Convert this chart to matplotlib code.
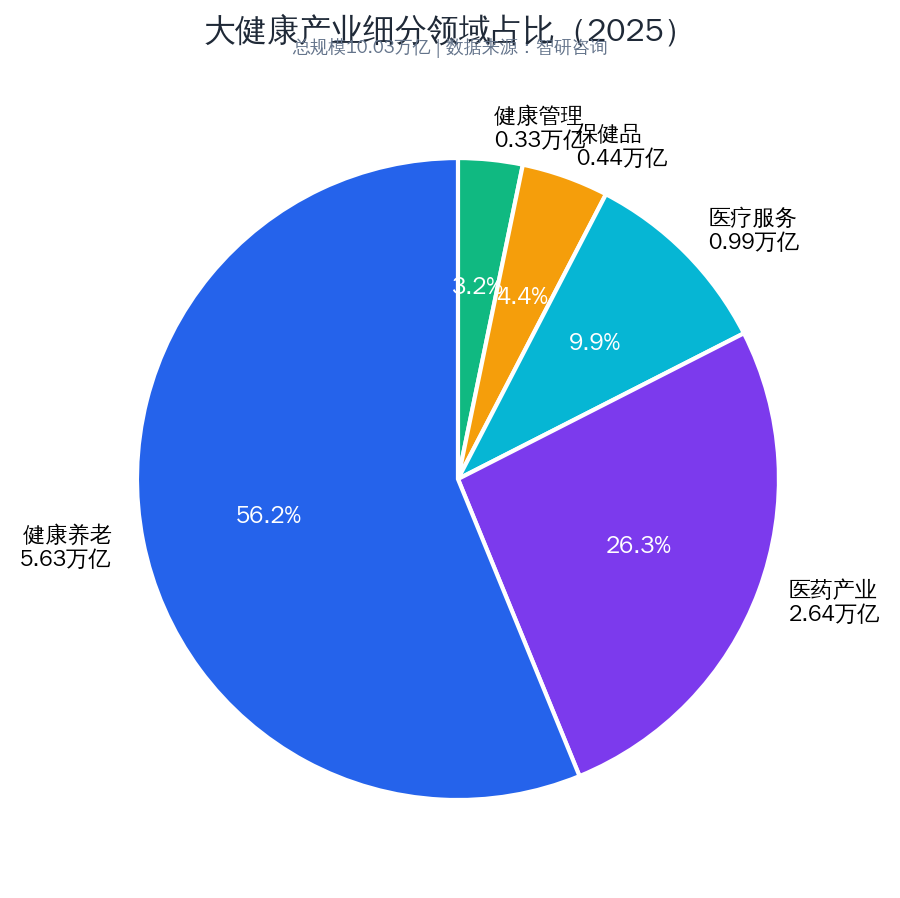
import matplotlib
matplotlib.use("Agg")
import matplotlib.pyplot as plt

plt.rcParams['font.family'] = ['WenQuanYi Zen Hei', 'DejaVu Sans']

# 数据（万亿）
categories = ["健康管理", "保健品", "医疗服务", "医药产业", "健康养老"]
values = [0.325, 0.44, 0.99, 2.64, 5.635]
colors = ["#10B981", "#F59E0B", "#06B6D4", "#7C3AED", "#2563EB"]
total = 10.03

labels = [f"{c}\n{v:.2f}万亿" for c, v in zip(categories, values)]

fig = plt.figure(figsize=(9, 8.98), dpi=100)
ax = fig.add_axes([0.1522, 0.1091, 0.7133, 0.7149])

wedges, texts, autotexts = ax.pie(
    values, labels=labels, colors=colors, autopct="%1.1f%%",
    startangle=90, counterclock=False, pctdistance=0.6, labeldistance=1.1,
    wedgeprops={"edgecolor": "white", "linewidth": 3},
    textprops={"fontsize": 16, "color": "black"},
)
for t in autotexts:
    t.set_color("white")
    t.set_fontsize(17)

ax.set_xlim(-1, 1)
ax.set_ylim(-1, 1)
ax.set_aspect("equal")

fig.text(0.5, 1 - 30 / 898, "大健康产业细分领域占比（2025）", ha="center", va="center",
         fontsize=23, color="#1F2937")
fig.text(0.5, 1 - 48 / 898, f"总规模{total:.2f}万亿 | 数据来源：智研咨询", ha="center", va="center",
         fontsize=13, color="#64748B")

fig.savefig("out.png", dpi=100)
